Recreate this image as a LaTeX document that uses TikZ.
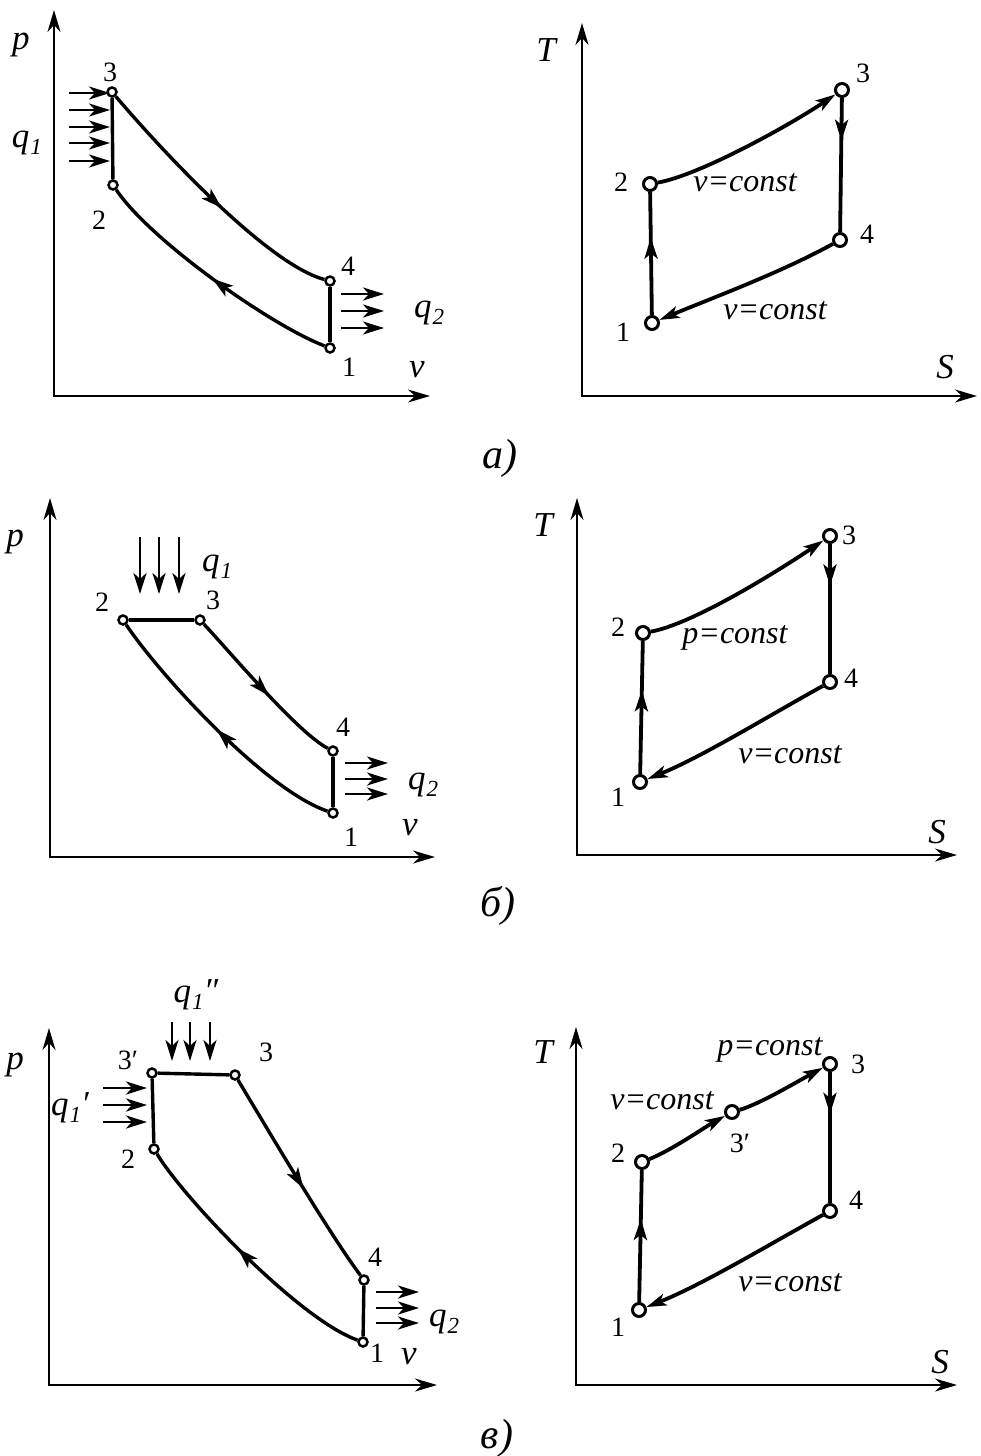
\documentclass[tikz,border=0pt]{standalone}
\usepackage{fontspec}
\setmainfont{Liberation Serif}
\usetikzlibrary{arrows.meta,decorations.markings}
\newcommand{\qsym}[2]{q\kern1pt\raisebox{-0.2em}{\fontsize{23}{23}\selectfont #1}#2}
\tikzset{
 axis/.style={line width=2.2pt,{Stealth[length=22pt,width=13pt,inset=7pt]}-{Stealth[length=22pt,width=13pt,inset=7pt]}},
 cyc/.style={line width=3.4pt},
 cycT/.style={line width=3.8pt},
 pvpt/.style={circle,draw,fill=white,line width=2.5pt,inner sep=0pt,minimum size=9pt},
 tspt/.style={circle,draw,fill=white,line width=3pt,inner sep=0pt,minimum size=13pt},
 heat/.style={line width=2.8pt,-{Stealth[length=21pt,width=13pt,inset=6pt]}},
 midarr/.style={postaction={decorate},decoration={markings,mark=at position #1 with {\arrow{Stealth[length=21pt,width=13pt,inset=5pt]}}}},
 endarr/.style={-{Stealth[length=20pt,width=12pt,inset=5pt]}},
 num/.style={font=\fontsize{28}{30}\selectfont,inner sep=0pt},
 var/.style={font=\fontsize{35}{38}\selectfont\itshape,inner sep=0pt},
 cst/.style={font=\fontsize{32}{34}\selectfont\itshape,inner sep=0pt},
 capt/.style={font=\fontsize{42}{44}\selectfont\itshape,inner sep=0pt},
}
\begin{document}
\begin{tikzpicture}[x=1pt,y=-1pt]
\useasboundingbox (0,0) rectangle (980,1456);

% ================= a) p-v =================
\coordinate (aO) at (54,396); \coordinate (aP) at (54,10); \coordinate (aV) at (430,396);
\draw[axis] (aP) -- (aO) -- (aV);
\node[pvpt] (a3) at (112,92) {}; \node[pvpt] (a2) at (113,185) {};
\node[pvpt] (a4) at (330,281) {}; \node[pvpt] (a1) at (330,348) {};
\draw[cyc] (a2) -- (a3);
\draw[cyc,midarr=0.55] (a3) .. controls (170,160) and (270,265) .. (a4);
\draw[cyc] (a4) -- (a1);
\draw[cyc,midarr=0.5] (a1) .. controls (270,325) and (150,240) .. (a2);
\node[var] (lap) at (21,45) {p};
\node[var] (lav) at (417,370) {v};
\node[num] (la3) at (110,72) {3};
\node[num] (la2) at (99,220) {2};
\node[num] (la4) at (348,266) {4};
\node[num] (la1) at (349,367) {1};
\node[var] (laq1) at (27,143) {\qsym{1}{}};
\node[var] (laq2) at (429,313) {\qsym{2}{}};
\foreach \y [count=\i] in {93,110,127,143,161} {
  \coordinate (aqs\i) at (69,\y); \coordinate (aqe\i) at (110,\y);
  \draw[heat] (aqs\i) -- (aqe\i);
}
\foreach \y [count=\i] in {294,311,328} {
  \coordinate (aus\i) at (341,\y); \coordinate (aue\i) at (384,\y);
  \draw[heat] (aus\i) -- (aue\i);
}

% ================= a) T-S =================
\coordinate (AO) at (582,396); \coordinate (AT) at (582,23); \coordinate (AS) at (977,396);
\draw[axis] (AT) -- (AO) -- (AS);
\node[tspt] (A1) at (652,323) {}; \node[tspt] (A2) at (650,184) {};
\node[tspt] (A3) at (842,90) {}; \node[tspt] (A4) at (840,240) {};
\draw[cycT,midarr=0.63] (A1) -- (A2);
\draw[cycT,endarr] (A2) .. controls (700,175) and (790,125) .. (A3);
\draw[cycT,midarr=0.32] (A3) -- (A4);
\draw[cycT,endarr] (A4) .. controls (780,273) and (712,298) .. (A1);
\node[var] (lAT) at (546,50) {T};
\node[var] (lAS) at (945,367) {S};
\node[num] (lA3) at (863,73) {3};
\node[num] (lA2) at (621,182) {2};
\node[num] (lA4) at (867,234) {4};
\node[num] (lA1) at (623,332) {1};
\node[cst] (lAc1) at (745,183) {v=const};
\node[cst] (lAc2) at (775,311) {v=const};
\node[capt] (capa) at (500,458) {а)};

% ================= b) p-v =================
\coordinate (bO) at (50,857); \coordinate (bP) at (50,498); \coordinate (bV) at (435,857);
\draw[axis] (bP) -- (bO) -- (bV);
\node[pvpt] (b2) at (123,620) {}; \node[pvpt] (b3) at (200,620) {};
\node[pvpt] (b4) at (333,751) {}; \node[pvpt] (b1) at (333,813) {};
\draw[cyc] (b2) -- (b3);
\draw[cyc,midarr=0.55] (b3) .. controls (230,652) and (298,733) .. (b4);
\draw[cyc] (b4) -- (b1);
\draw[cyc,midarr=0.5] (b1) .. controls (265,790) and (160,675) .. (b2);
\node[var] (lbp) at (15,542) {p};
\node[var] (lbv) at (410,828) {v};
\node[num] (lb2) at (102,602) {2};
\node[num] (lb3) at (213,600) {3};
\node[num] (lb4) at (343,727) {4};
\node[num] (lb1) at (351,837) {1};
\node[var] (lbq1) at (217,567) {\qsym{1}{}};
\node[var] (lbq2) at (423,785) {\qsym{2}{}};
\foreach \x [count=\i] in {140,159,179} {
  \coordinate (bqs\i) at (\x,537); \coordinate (bqe\i) at (\x,594);
  \draw[heat] (bqs\i) -- (bqe\i);
}
\foreach \y [count=\i] in {763,779,794} {
  \coordinate (bus\i) at (345,\y); \coordinate (bue\i) at (388,\y);
  \draw[heat] (bus\i) -- (bue\i);
}

% ================= b) T-S =================
\coordinate (BO) at (577,855); \coordinate (BT) at (577,498); \coordinate (BS) at (957,855);
\draw[axis] (BT) -- (BO) -- (BS);
\node[tspt] (B1) at (640,782) {}; \node[tspt] (B2) at (643,633) {};
\node[tspt] (B3) at (830,536) {}; \node[tspt] (B4) at (830,682) {};
\draw[cycT,midarr=0.63] (B1) -- (B2);
\draw[cycT,endarr] (B2) .. controls (693,624) and (778,571) .. (B3);
\draw[cycT,midarr=0.32] (B3) -- (B4);
\draw[cycT,endarr] (B4) .. controls (770,715) and (702,757) .. (B1);
\node[var] (lBT) at (543,525) {T};
\node[var] (lBS) at (937,832) {S};
\node[num] (lB3) at (849,535) {3};
\node[num] (lB2) at (618,627) {2};
\node[num] (lB4) at (851,678) {4};
\node[num] (lB1) at (618,797) {1};
\node[cst] (lBc1) at (735,638) {p=const};
\node[cst] (lBc2) at (790,755) {v=const};
\node[capt] (capb) at (498,906) {б)};

% ================= c) p-v =================
\coordinate (cO) at (49,1385); \coordinate (cP) at (49,1028); \coordinate (cV) at (437,1385);
\draw[axis] (cP) -- (cO) -- (cV);
\node[pvpt] (c3p) at (152,1073) {}; \node[pvpt] (c3) at (235,1075) {};
\node[pvpt] (c2) at (154,1149) {}; \node[pvpt] (c4) at (364,1280) {};
\node[pvpt] (c1) at (363,1342) {};
\draw[cyc] (c2) -- (c3p);
\draw[cyc] (c3p) -- (c3);
\draw[cyc,midarr=0.55] (c3) .. controls (265,1125) and (330,1235) .. (c4);
\draw[cyc] (c4) -- (c1);
\draw[cyc,midarr=0.55] (c1) .. controls (300,1320) and (185,1200) .. (c2);
\node[var] (lcp) at (15,1065) {p};
\node[var] (lcv) at (409,1357) {v};
\node[num] (lc3p) at (128,1060) {3′};
\node[num] (lc3) at (266,1052) {3};
\node[num] (lc2) at (128,1159) {2};
\node[num] (lc4) at (375,1257) {4};
\node[num] (lc1) at (377,1353) {1};
\node[var] (lcq1b) at (196,995) {\qsym{1}{″}};
\node[var] (lcq1a) at (70,1108) {\qsym{1}{′}};
\node[var] (lcq2) at (444,1322) {\qsym{2}{}};
\foreach \x [count=\i] in {172,190,210} {
  \coordinate (cqs\i) at (\x,1022); \coordinate (cqe\i) at (\x,1061);
  \draw[heat] (cqs\i) -- (cqe\i);
}
\foreach \y [count=\i] in {1088,1105,1122} {
  \coordinate (cps\i) at (103,\y); \coordinate (cpe\i) at (147,\y);
  \draw[heat] (cps\i) -- (cpe\i);
}
\foreach \y [count=\i] in {1292,1308,1323} {
  \coordinate (cus\i) at (376,\y); \coordinate (cue\i) at (419,\y);
  \draw[heat] (cus\i) -- (cue\i);
}

% ================= c) T-S =================
\coordinate (CO) at (576,1385); \coordinate (CT) at (576,1027); \coordinate (CS) at (957,1385);
\draw[axis] (CT) -- (CO) -- (CS);
\node[tspt] (C1) at (639,1310) {}; \node[tspt] (C2) at (642,1162) {};
\node[tspt] (C3p) at (732,1112) {}; \node[tspt] (C3) at (830,1064) {};
\node[tspt] (C4) at (830,1211) {};
\draw[cycT,midarr=0.63] (C1) -- (C2);
\draw[cycT,endarr] (C2) .. controls (672,1150) and (705,1127) .. (C3p);
\draw[cycT,endarr] (C3p) .. controls (760,1104) and (800,1080) .. (C3);
\draw[cycT,midarr=0.32] (C3) -- (C4);
\draw[cycT,endarr] (C4) .. controls (770,1244) and (702,1285) .. (C1);
\node[var] (lCT) at (543,1052) {T};
\node[var] (lCS) at (940,1362) {S};
\node[num] (lC3) at (858,1064) {3};
\node[num] (lC3p) at (740,1143) {3′};
\node[num] (lC2) at (618,1153) {2};
\node[num] (lC4) at (856,1200) {4};
\node[num] (lC1) at (618,1327) {1};
\node[cst] (lCc1) at (770,1050) {p=const};
\node[cst] (lCc2) at (662,1101) {v=const};
\node[cst] (lCc3) at (790,1283) {v=const};
\node[capt] (capc) at (497,1438) {в)};
\end{tikzpicture}
\end{document}
